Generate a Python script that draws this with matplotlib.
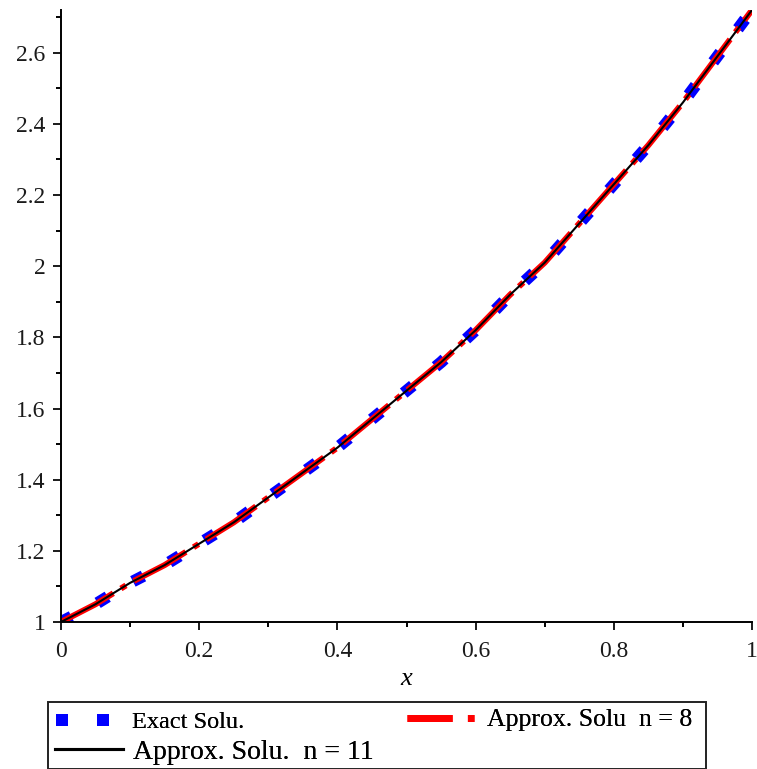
import matplotlib.pyplot as plt
from matplotlib.lines import Line2D
from matplotlib.patches import Rectangle
import numpy as np

# values
x_vals = [0.00, 0.05, 0.10, 0.15, 0.20, 0.25, 0.30, 0.35, 0.40, 0.45, 0.50,
          0.55, 0.60, 0.65, 0.70, 0.75, 0.80, 0.85, 0.90, 0.95, 1.00]
exact = [1.00, 1.05, 1.11, 1.16, 1.22, 1.28, 1.35, 1.42, 1.49, 1.57, 1.65,
         1.73, 1.82, 1.92, 2.01, 2.12, 2.23, 2.34, 2.46, 2.59, 2.72]
approx_n8 = [1.00, 1.05, 1.11, 1.16, 1.22, 1.28, 1.35, 1.42, 1.49, 1.57, 1.65,
             1.73, 1.82, 1.92, 2.01, 2.12, 2.23, 2.34, 2.46, 2.59, 2.72]
approx_n11 = [1.00, 1.05, 1.11, 1.16, 1.22, 1.28, 1.35, 1.42, 1.49, 1.57, 1.65,
              1.73, 1.82, 1.92, 2.01, 2.12, 2.23, 2.34, 2.46, 2.59, 2.72]

xticks = [0, 0.2, 0.4, 0.6, 0.8, 1]
xtick_labels = ['0', '0.2', '0.4', '0.6', '0.8', '1']
yticks = [1, 1.2, 1.4, 1.6, 1.8, 2, 2.2, 2.4, 2.6]
ytick_labels = ['1', '1.2', '1.4', '1.6', '1.8', '2', '2.2', '2.4', '2.6']

plt.rcParams['font.family'] = 'serif'
plt.rcParams['font.serif'] = ['Liberation Serif', 'DejaVu Serif']

W, H = 757, 769
fig = plt.figure(figsize=(W / 100, H / 100), dpi=100)
ax = fig.add_axes([61 / W, 1 - 622 / H, (752 - 61) / W, (622 - 10) / H])

ax.plot(x_vals, exact, color='#0000ff', lw=8.5,
        linestyle=(0, (1.0, 2.5)), solid_capstyle='butt')
ax.plot(x_vals, approx_n8, color='#ff0000', lw=4.3,
        linestyle=(0, (10, 1.5, 1, 1.5)))
ax.plot(x_vals, approx_n11, color='black', lw=1.5)

ax.set_xlim(0, 1)
ax.set_ylim(1, 2.72)
ax.set_xticks(xticks)
ax.set_xticklabels(xtick_labels)
ax.set_xticks(np.arange(0.1, 1.0, 0.2), minor=True)
ax.set_yticks(yticks)
ax.set_yticklabels(ytick_labels)
ax.set_yticks(np.arange(1.1, 2.75, 0.2), minor=True)

for s in ['top', 'right']:
    ax.spines[s].set_visible(False)
for s in ['left', 'bottom']:
    ax.spines[s].set_linewidth(1.4)
ax.tick_params(which='major', length=6, width=1.4, labelsize=17,
               colors='#1a1a1a', pad=5)
ax.tick_params(axis='x', which='major', pad=8)
ax.tick_params(which='minor', length=3.5, width=1.4)
ax.set_xlabel('x', fontsize=19, style='italic', labelpad=4)

# legend: frame plus three single-entry legends placed like the reference
fig.patches.append(Rectangle((48 / W, 0), (706 - 48) / W, 1 - 702 / H,
                             transform=fig.transFigure, fill=False,
                             edgecolor='#222222', lw=1.4))

h_exact = Line2D([], [], color='#0000ff', lw=0, marker='s',
                 markersize=8, markeredgewidth=0)
h_n11 = Line2D([], [], color='black', lw=2.2)
h_n8 = Line2D([], [], color='#ff0000', lw=5, linestyle=(0, (6.5, 2.2, 1, 5)))

entries = [
    (h_exact, 'Exact Solu.', 17.5, 55, 722, 2.28, 0.9, 2),
    (h_n11, 'Approx. Solu.  n = 11', 20, 55, 752, 2.45, 0.36, 1),
    (h_n8, 'Approx. Solu  n = 8', 18.5, 407, 720, 2.61, 0.5, 1),
]
for h, lab, fs, x0, y0, hl, tp, npts in entries:
    lg = fig.legend([h], [lab], loc='center left',
                    bbox_to_anchor=(x0 / W, 1 - y0 / H), frameon=False,
                    fontsize=fs, handlelength=hl, handletextpad=tp,
                    borderpad=0, borderaxespad=0, numpoints=npts)
    fig.add_artist(lg)

fig.savefig('out.png', dpi=100)
